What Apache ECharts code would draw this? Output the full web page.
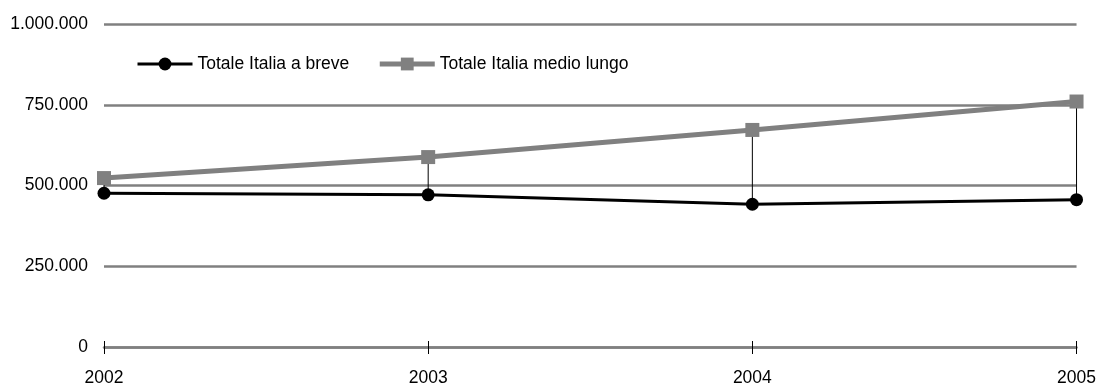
<!DOCTYPE html>
<html>
<head>
<meta charset="utf-8">
<script src="https://cdn.jsdelivr.net/npm/echarts@6/dist/echarts.min.js"></script>
<style>
  html, body { margin: 0; padding: 0; background: #fff; }
  #chart { width: 1099px; height: 387px; }
</style>
</head>
<body>
<div id="chart"></div>
<script>
// Years on the horizontal axis
const years = ['2002', '2003', '2004', '2005'];
// Series values
const breve = [476000, 471000, 442000, 456000];
const medioLungo = [523000, 588000, 672000, 760000];
// Series names
const nameBreve = 'Totale Italia a breve';
const nameMedio = 'Totale Italia medio lungo';
// Value axis range
const yMin = 0;
const yMax = 1000000;
const yStep = 250000;

const FONT = '"Liberation Sans Narrow", "Arial Narrow", "Liberation Sans", Arial, sans-serif';
const FS = 17.5;

// thousands separated with dots
function fmt(v) {
  return String(Math.round(v)).replace(/\B(?=(\d{3})+(?!\d))/g, '.');
}

// vertical connectors between the two series at each year
const spans = years.map((y, i) => [i, breve[i], medioLungo[i]]);

const chart = echarts.init(document.getElementById('chart'), null, { renderer: 'canvas' });
chart.setOption({
  animation: false,
  backgroundColor: '#ffffff',
  textStyle: { fontFamily: FONT },
  legend: {
    left: 131,
    top: 50,
    itemWidth: 55,
    itemHeight: 16,
    itemGap: 28,
    data: [
      { name: nameBreve, lineStyle: { width: 3 } },
      { name: nameMedio, lineStyle: { width: 5 } }
    ],
    textStyle: { fontFamily: FONT, fontSize: FS, color: '#000' }
  },
  grid: { left: 104, right: 22, top: 24, bottom: 40, containLabel: false },
  xAxis: [{
    type: 'category',
    data: years,
    boundaryGap: false,
    axisLine: { show: true, lineStyle: { color: '#808080', width: 2.5 } },
    axisTick: { show: true, length: 7, lineStyle: { color: '#000', width: 1 } },
    axisLabel: { margin: 22, fontFamily: FONT, fontSize: FS, color: '#000' },
    splitLine: { show: false }
  }, {
    type: 'category',
    data: years,
    boundaryGap: false,
    position: 'bottom',
    axisLine: { show: false },
    axisTick: { show: true, inside: true, length: 6, lineStyle: { color: '#000', width: 1 } },
    axisLabel: { show: false },
    splitLine: { show: false }
  }],
  yAxis: {
    type: 'value',
    min: yMin,
    max: yMax,
    interval: yStep,
    axisLine: { show: false },
    axisTick: { show: false },
    axisLabel: { margin: 16, fontFamily: FONT, fontSize: FS, color: '#000', formatter: fmt },
    splitLine: { show: true, lineStyle: { color: '#808080', width: 2.5 } }
  },
  series: [
    {
      type: 'custom',
      name: 'span',
      data: spans,
      encode: { x: 0, y: [1, 2] },
      silent: true,
      z: 1,
      renderItem: function (params, api) {
        const lo = api.coord([api.value(0), api.value(1)]);
        const hi = api.coord([api.value(0), api.value(2)]);
        return {
          type: 'line',
          shape: { x1: lo[0], y1: lo[1], x2: hi[0], y2: hi[1] },
          style: { stroke: '#000', lineWidth: 1 }
        };
      }
    },
    {
      type: 'line',
      name: nameMedio,
      data: medioLungo,
      symbol: 'rect',
      symbolSize: 14,
      z: 3,
      lineStyle: { color: '#808080', width: 5 },
      itemStyle: { color: '#808080' }
    },
    {
      type: 'line',
      name: nameBreve,
      data: breve,
      symbol: 'circle',
      symbolSize: 13,
      z: 4,
      lineStyle: { color: '#000000', width: 3 },
      itemStyle: { color: '#000000' }
    }
  ]
});
</script>
</body>
</html>
